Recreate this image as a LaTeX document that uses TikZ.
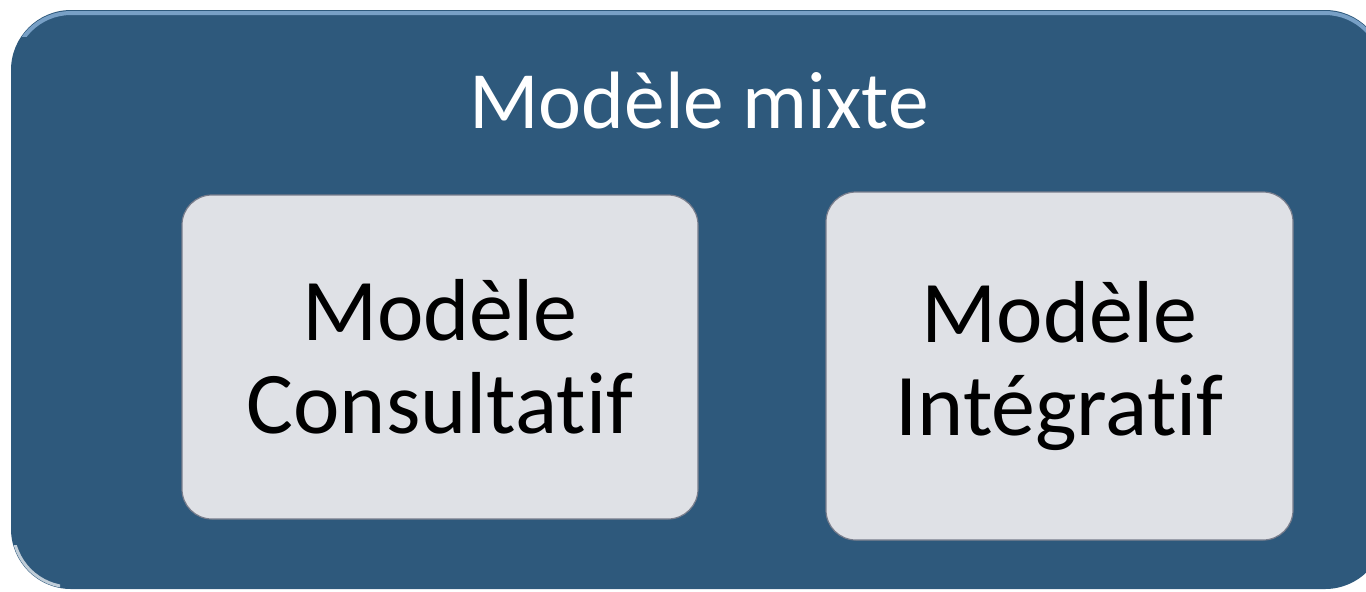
\documentclass[tikz,border=0pt]{standalone}
\usepackage{fontspec}
\setmainfont{Carlito}[Ligatures={NoCommon}]
\definecolor{panelblue}{RGB}{46,89,124}
\definecolor{panelshine}{RGB}{120,160,198}
\definecolor{cardgray}{RGB}{223,225,230}
\definecolor{cardedge}{RGB}{120,125,140}
\tikzset{
  panel/.style={fill=panelblue, rounded corners=30pt},
  card/.style={fill=cardgray, draw=cardedge, line width=0.6pt, rounded corners=15pt,
    align=center, inner sep=0pt, text=black,
    font=\fontsize{44}{46.5}\selectfont},
  heading/.style={text=white, inner sep=0pt, font=\fontsize{40.7}{46}\selectfont}
}
\begin{document}
\begin{tikzpicture}[x=0.5pt,y=-0.5pt]
\useasboundingbox (0,0) rectangle (1366,591);
\clip (0,0) rectangle (1366,591);
% outer panel
\path[panel] (11,10) rectangle (1385,589);
% bevel highlight along the top edge
\begin{scope}
  \clip (0,0) rectangle (1366,36);
  \draw[panelshine, line width=2pt, rounded corners=29pt] (13,13) rectangle (1383,587);
\end{scope}
% soft gleam at the lower left corner
\begin{scope}
  \clip (0,545) rectangle (60,591);
  \draw[white!70!panelblue, line width=1.5pt, rounded corners=29pt] (13,12) rectangle (1383,587);
\end{scope}
% heading
\node[heading, anchor=base] (title) at (699,128) {Modèle mixte};
% two model cards
\node[card, minimum width=258pt, minimum height=162pt] (consult) at (440,357)
  {Modèle\\Consultatif};
\node[card, minimum width=233.5pt, minimum height=174pt] (integr) at (1059.5,366)
  {Modèle\\Intégratif};
\end{tikzpicture}
\end{document}
